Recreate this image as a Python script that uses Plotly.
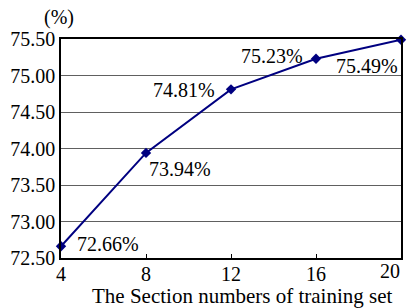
import plotly.graph_objects as go

sections = [4, 8, 12, 16, 20]
x_ticktext = ["4", "8", "12", "16", "20"]
accuracy = [72.66, 73.94, 74.81, 75.23, 75.49]
labels = ["72.66%", "73.94%", "74.81%", "75.23%", "75.49%"]
y_ticks = [72.5, 73.0, 73.5, 74.0, 74.5, 75.0, 75.5]
y_ticktext = ["72.50", "73.00", "73.50", "74.00", "74.50", "75.00", "75.50"]
x_title = "The Section numbers of training set"
y_unit = "(%)"

FONT = "Liberation Serif, Times New Roman, Tinos, serif"
navy = "#000080"

fig = go.Figure()
fig.add_trace(go.Scatter(
    x=sections, y=accuracy, mode="lines+markers",
    line=dict(color=navy, width=2),
    marker=dict(symbol="diamond", size=8, color=navy),
    cliponaxis=False, showlegend=False,
))

# label placement: (xanchor, xshift, yshift)
place = [("left", 14, 2), ("left", 1, -16), ("right", -14, -1), ("right", -11, 3), ("right", -1, -26)]
for xv, yv, t, (xa, xs, ys) in zip(sections, accuracy, labels, place):
    fig.add_annotation(x=xv, y=yv, text=t, showarrow=False, xanchor=xa, yanchor="middle",
                       xshift=xs, yshift=ys, font=dict(family=FONT, size=20, color="black"))

# last x tick label kept inside the figure (like the original)
fig.add_annotation(x=sections[-1], xref="x", yref="paper", y=0, yshift=-13, text=x_ticktext[-1],
                   showarrow=False, xanchor="right", yanchor="middle", xshift=1,
                   font=dict(family=FONT, size=20, color="black"))

fig.add_annotation(xref="paper", yref="paper", x=-0.006, y=1.0, yshift=22, text=y_unit,
                   showarrow=False, xanchor="center", yanchor="middle",
                   font=dict(family=FONT, size=20, color="black"))
fig.add_annotation(xref="paper", yref="paper", x=0.534, y=0, yshift=-38, text=x_title,
                   showarrow=False, xanchor="center", yanchor="middle",
                   font=dict(family=FONT, size=21, color="black"))

fig.update_layout(
    width=409, height=308,
    margin=dict(l=61, r=6, t=39, b=50),
    paper_bgcolor="white", plot_bgcolor="white",
    font=dict(family=FONT, size=20, color="black"),
)
fig.update_xaxes(range=[4, 20], tickvals=sections, ticktext=x_ticktext[:-1] + [""],
                 showgrid=False, zeroline=False,
                 showline=True, linecolor="black", linewidth=1.5, mirror=True,
                 ticks="inside", ticklen=4, tickcolor="black", ticklabelstandoff=-3,
                 tickfont=dict(family=FONT, size=20))
fig.update_yaxes(range=[72.5, 75.5], tickvals=y_ticks, ticktext=y_ticktext,
                 showgrid=True, gridcolor="#606060", gridwidth=1, zeroline=False,
                 showline=True, linecolor="black", linewidth=1.5, mirror=True,
                 ticks="", tickfont=dict(family=FONT, size=20))

fig.write_html("out.html", config={"displayModeBar": False},
               post_script="document.body.style.margin='0';document.body.style.overflow='hidden';")
